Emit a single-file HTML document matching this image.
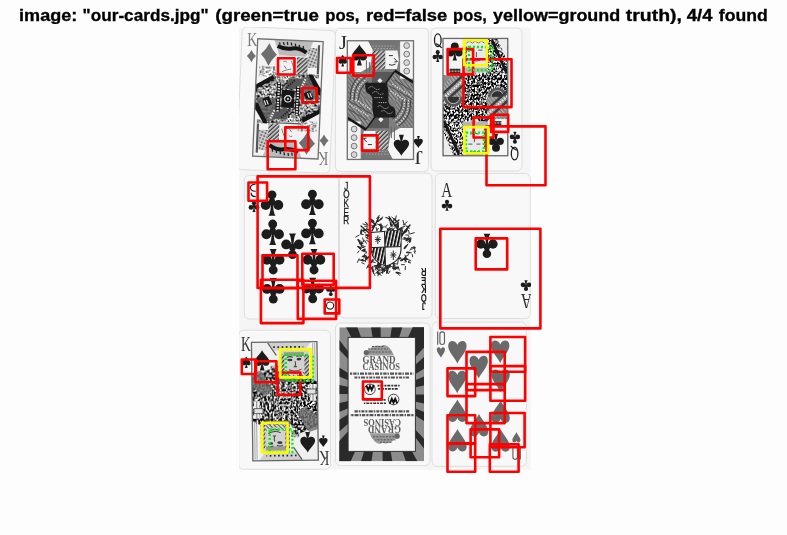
<!DOCTYPE html>
<html><head><meta charset="utf-8"><title>our-cards</title>
<style>
html,body{margin:0;padding:0;background:#fdfdfd;}
body{width:787px;height:535px;overflow:hidden;font-family:"Liberation Sans",sans-serif;}
svg{display:block;position:absolute;left:0;top:0;}
</style></head><body>
<svg width="787" height="535" viewBox="0 0 787 535">
<defs>
<pattern id="hatchD" width="3" height="3" patternUnits="userSpaceOnUse" patternTransform="rotate(45)"><rect width="3" height="3" fill="#d8d8d8"/><rect width="1.4" height="3" fill="#3a3a3a"/></pattern>
<pattern id="hatchJ" width="3" height="3" patternUnits="userSpaceOnUse" patternTransform="rotate(-38)"><rect width="3" height="3" fill="#bdbdbd"/><rect width="1.4" height="3" fill="#444"/></pattern>
<pattern id="hatchL" width="3" height="3" patternUnits="userSpaceOnUse" patternTransform="rotate(-45)"><rect width="3" height="3" fill="#e6e6e6"/><rect width="1.2" height="3" fill="#555"/></pattern>
<pattern id="dotsD" width="3" height="3" patternUnits="userSpaceOnUse"><rect width="3" height="3" fill="#2a2a2a"/><rect x="0.5" y="0.5" width="1.4" height="1.4" fill="#e8e8e8"/></pattern>
<pattern id="dotsM" width="3.2" height="3.2" patternUnits="userSpaceOnUse" patternTransform="rotate(20)"><rect width="3.2" height="3.2" fill="#cfcfcf"/><rect x="0.4" y="0.4" width="1.7" height="1.7" fill="#333"/></pattern>
<pattern id="vbar" width="3.3" height="4" patternUnits="userSpaceOnUse" patternTransform="skewX(-12)"><rect width="3.3" height="4" fill="#f4f4f4"/><rect width="2" height="4" fill="#141414"/></pattern>
<filter id="engD" x="0" y="0" width="100%" height="100%" color-interpolation-filters="sRGB"><feTurbulence type="fractalNoise" baseFrequency="0.55 0.42" numOctaves="2" seed="4" result="n"/><feColorMatrix in="n" type="matrix" values="4.2 0 0 0 -1.75  4.2 0 0 0 -1.75  4.2 0 0 0 -1.75  0 0 0 0 1" result="g"/><feComposite in="g" in2="SourceGraphic" operator="in"/></filter>
<filter id="engM" x="0" y="0" width="100%" height="100%" color-interpolation-filters="sRGB"><feTurbulence type="fractalNoise" baseFrequency="0.5 0.5" numOctaves="2" seed="9" result="n"/><feColorMatrix in="n" type="matrix" values="3.4 0 0 0 -1.15  3.4 0 0 0 -1.15  3.4 0 0 0 -1.15  0 0 0 0 1" result="g"/><feComposite in="g" in2="SourceGraphic" operator="in"/></filter>
<filter id="engL" x="0" y="0" width="100%" height="100%" color-interpolation-filters="sRGB"><feTurbulence type="fractalNoise" baseFrequency="0.45 0.45" numOctaves="2" seed="13" result="n"/><feColorMatrix in="n" type="matrix" values="2.6 0 0 0 -0.55  2.6 0 0 0 -0.55  2.6 0 0 0 -0.55  0 0 0 0 1" result="g"/><feComposite in="g" in2="SourceGraphic" operator="in"/></filter>
<filter id="gray" x="0" y="0" width="100%" height="100%" color-interpolation-filters="sRGB"><feColorMatrix type="saturate" values="0"/></filter>
<filter id="soft" x="-5%" y="-5%" width="110%" height="110%"><feGaussianBlur stdDeviation="0.45"/></filter>
<filter id="soft2" x="-5%" y="-5%" width="110%" height="110%"><feGaussianBlur stdDeviation="0.3"/></filter>
</defs>
<rect x="0" y="0" width="787" height="535" fill="#fdfdfd"/>
<g filter="url(#gray)">
<text x="19.10" y="20.6" font-family="Liberation Sans" font-weight="bold" font-size="15.9" fill="#000" stroke="#000" stroke-width="0.3" textLength="58.20" lengthAdjust="spacingAndGlyphs">image:</text>
<text x="82.60" y="20.6" font-family="Liberation Sans" font-weight="bold" font-size="15.9" fill="#000" stroke="#000" stroke-width="0.3" textLength="126.00" lengthAdjust="spacingAndGlyphs">&quot;our-cards.jpg&quot;</text>
<text x="215.20" y="20.6" font-family="Liberation Sans" font-weight="bold" font-size="15.9" fill="#000" stroke="#000" stroke-width="0.3" textLength="103.70" lengthAdjust="spacingAndGlyphs">(green=true</text>
<text x="325.20" y="20.6" font-family="Liberation Sans" font-weight="bold" font-size="15.9" fill="#000" stroke="#000" stroke-width="0.3" textLength="34.30" lengthAdjust="spacingAndGlyphs">pos,</text>
<text x="365.90" y="20.6" font-family="Liberation Sans" font-weight="bold" font-size="15.9" fill="#000" stroke="#000" stroke-width="0.3" textLength="81.40" lengthAdjust="spacingAndGlyphs">red=false</text>
<text x="453.10" y="20.6" font-family="Liberation Sans" font-weight="bold" font-size="15.9" fill="#000" stroke="#000" stroke-width="0.3" textLength="33.80" lengthAdjust="spacingAndGlyphs">pos,</text>
<text x="493.00" y="20.6" font-family="Liberation Sans" font-weight="bold" font-size="15.9" fill="#000" stroke="#000" stroke-width="0.3" textLength="127.30" lengthAdjust="spacingAndGlyphs">yellow=ground</text>
<text x="625.80" y="20.6" font-family="Liberation Sans" font-weight="bold" font-size="15.9" fill="#000" stroke="#000" stroke-width="0.3" textLength="56.20" lengthAdjust="spacingAndGlyphs">truth),</text>
<text x="686.80" y="20.6" font-family="Liberation Sans" font-weight="bold" font-size="15.9" fill="#000" stroke="#000" stroke-width="0.3" textLength="25.70" lengthAdjust="spacingAndGlyphs">4/4</text>
<text x="718.80" y="20.6" font-family="Liberation Sans" font-weight="bold" font-size="15.9" fill="#000" stroke="#000" stroke-width="0.3" textLength="48.90" lengthAdjust="spacingAndGlyphs">found</text>
</g>
<rect x="239.2" y="27.7" width="291.5" height="442.1" fill="#f5f5f5"/>
<clipPath id="imgclip"><rect x="239.2" y="27.7" width="291.5" height="442.1"/></clipPath>
<g clip-path="url(#imgclip)">
<g filter="url(#soft)">
<g transform="rotate(2.5 286 100)"><rect x="239.3" y="28.5" width="93.40" height="143.00" rx="5" fill="#f8f8f8" stroke="#dedede" stroke-width="1.0"/></g>
<rect x="335.4" y="28.3" width="93.20" height="143.30" rx="5" fill="#f8f8f8" stroke="#dedede" stroke-width="1.0"/>
<rect x="431" y="28" width="91.00" height="143.00" rx="5" fill="#f8f8f8" stroke="#dedede" stroke-width="1.0"/>
<rect x="244.3" y="175.5" width="94.20" height="143.50" rx="5" fill="#f8f8f8" stroke="#dedede" stroke-width="1.0"/>
<rect x="339.5" y="173.2" width="92.50" height="144.80" rx="5" fill="#f8f8f8" stroke="#dedede" stroke-width="1.0"/>
<rect x="435.3" y="173.5" width="95.00" height="145.00" rx="5" fill="#f8f8f8" stroke="#dedede" stroke-width="1.0"/>
<rect x="238.7" y="330.2" width="91.80" height="139.00" rx="5" fill="#f8f8f8" stroke="#dedede" stroke-width="1.0"/>
<rect x="335.5" y="323" width="94.50" height="142.60" rx="5" fill="#f8f8f8" stroke="#dedede" stroke-width="1.0"/>
<rect x="432" y="322.2" width="94.40" height="144.10" rx="5" fill="#f8f8f8" stroke="#dedede" stroke-width="1.0"/>
<clipPath id="clip1"><rect x="-32.75" y="-58.75" width="65.5" height="117.5"/></clipPath>
<g transform="translate(287.9 98.9) rotate(2.5)">
<rect x="-32.75" y="-58.75" width="65.5" height="117.5" fill="#f3f3f3"/>
<g clip-path="url(#clip1)">
<g id="half1"><path d="M-20.90 -54.90 Q-17.70 -48.12 -12.90 -43.60 Q-17.70 -39.08 -20.90 -32.30 Q-24.10 -39.08 -28.90 -43.60 Q-24.10 -48.12 -20.90 -54.90 Z" fill="#6e6e6e"/><polygon points="-16,-58.5 23,-58.5 16.4,-43 -10.4,-43" fill="#bcbcbc"/><path d="M-12.5 -52.5 Q-5 -49 2 -50.5 T16.5 -47" fill="none" stroke="#161616" stroke-width="3.9"/><path d="M-11 -56 l1 2 M-7 -56.5 l1 3 M-3 -57 l0.5 3 M1 -56.5 l0.5 3 M5 -55.5 l0.5 3 M9 -54.5 l0.5 3 M13 -53.5 l0.5 3" stroke="#222" stroke-width="1.3" fill="none"/><rect x="-10.4" y="-43" width="17.6" height="19" fill="#f1f1f1"/><path d="M-6 -37 q2 -1.5 3.5 0.5 M-5 -33 l2 3 M-7 -27 q4 -2 9 -3 M2 -38 l3 8" stroke="#777" stroke-width="0.9" fill="none"/><rect x="7.3" y="-42" width="11" height="16.5" fill="url(#hatchD)"/><rect x="18.3" y="-52" width="9" height="20" fill="url(#dotsM)" opacity="0.85"/><line x1="28.8" y1="-55" x2="28.8" y2="-22" stroke="#555" stroke-width="2.2"/><rect x="-30" y="-32" width="19" height="10.5" fill="#000" filter="url(#engL)" opacity="0.75"/><rect x="8" y="-26" width="22" height="4" fill="#000" filter="url(#engL)" opacity="0.7"/><path d="M-14 -24.3 H19" stroke="#555" stroke-width="1.2"/><polygon points="-33,0.2 -33,-11 -15.4,-21.7 18.7,-24.6 33,-11 33,0.2" fill="#000" filter="url(#engM)"/><polygon points="12,-22 20,-23.5 31,-10 31,0.2 12,0.2" fill="#5e5e5e" opacity="0.85"/><polygon points="-4,-10 1,-20.5 14,-20.5 12,-10" fill="#575757"/><path d="M-27 0 L-10 -15" stroke="#e8e8e8" stroke-width="2" stroke-dasharray="1.5 1.3"/><path d="M-13 -19.5 L2 -22" stroke="#f0f0f0" stroke-width="1.8" stroke-dasharray="1.3 1.2"/><path d="M-9.5 -16 V0.2 M9.8 -13 V0.2" stroke="#161616" stroke-width="4.2"/><path d="M-9.5 -16 V0.2 M9.8 -13 V0.2" stroke="#ececec" stroke-width="2.2" stroke-dasharray="1.5 1.2"/><path d="M13 -12 L17 -21" stroke="#ececec" stroke-width="2.2" stroke-dasharray="1.4 1.2"/><path d="M-2 -11 L6 -19" stroke="#222" stroke-width="1.8" stroke-dasharray="1.4 1.1"/><path d="M-33.5 -10.2 L-15 -21.3" stroke="#121212" stroke-width="4.2"/><polygon points="19,-25 23.5,-25.5 33,-10 33,-4 29.5,-6" fill="#141414"/><rect x="17" y="-8" width="7" height="9" fill="#151515" transform="rotate(-25 20.5 -3.5)"/><path d="M19.3 -6.5 l2 4.5 M21.6 -7.2 l2 4.5" stroke="#eee" stroke-width="1.1"/><rect x="-6.3" y="-8.8" width="12.6" height="9" fill="#141414"/><circle cx="0" cy="0" r="3.2" fill="#141414" stroke="#eee" stroke-width="1"/><circle cx="0" cy="0" r="1.1" fill="#ccc"/></g>
<use href="#half1" transform="rotate(180)"/>
</g>
<rect x="-32.75" y="-58.75" width="65.5" height="117.5" fill="none" stroke="#707070" stroke-width="1.3"/>
</g>
<text x="247.3" y="45.7" font-family="Liberation Serif" font-size="19.5" fill="#7c7c7c" textLength="10" lengthAdjust="spacingAndGlyphs">K</text>
<path d="M251.40 49.90 Q253.20 53.62 255.90 56.10 Q253.20 58.58 251.40 62.30 Q249.60 58.58 246.90 56.10 Q249.60 53.62 251.40 49.90 Z" fill="#707070"/>
<text x="328.2" y="151.5" font-family="Liberation Serif" font-size="19.5" fill="#7c7c7c" textLength="10" lengthAdjust="spacingAndGlyphs" transform="rotate(180 328.2 151.5)">K</text>
<path d="M324.00 134.40 Q325.80 138.12 328.50 140.60 Q325.80 143.08 324.00 146.80 Q322.20 143.08 319.50 140.60 Q322.20 138.12 324.00 134.40 Z" fill="#707070"/>
<clipPath id="clip2"><rect x="-33.1" y="-59.35" width="66.2" height="118.7"/></clipPath>
<g transform="translate(380.4 100.1) rotate(0)">
<rect x="-33.1" y="-59.35" width="66.2" height="118.7" fill="#7e7e7e"/>
<g clip-path="url(#clip2)">
<g id="half2"><rect x="-33.1" y="-59.35" width="66.2" height="59.550000000000004" fill="#7e7e7e"/><rect x="-33.4" y="-27" width="18" height="27.2" fill="url(#hatchJ)" opacity="0.4"/><path d="M-28 0 Q-29 -16 -17 -24.5 M-24 0 Q-24.5 -13.5 -13.5 -21" stroke="#e2e2e2" stroke-width="1.3" stroke-dasharray="1.2 1.5" fill="none"/><path d="M-30 0 Q-31 -18 -18 -26 M-26 0 Q-27 -15 -15 -23 M-22 0 Q-22 -12 -12 -19" stroke="#444" stroke-width="1.1" fill="none"/><polygon points="-33,-59.3 -11.9,-59.3 -7.4,-49.7 -10.4,-33.3 -19.4,-28 -33,-28" fill="#f6f6f6"/><path d="M-21.00 -55.70 C-18.69 -51.08 -13.30 -47.72 -13.30 -43.52 C-13.30 -38.90 -19.15 -38.48 -20.38 -41.42 L-18.54 -34.70 L-23.46 -34.70 L-21.62 -41.42 C-22.85 -38.48 -28.70 -38.90 -28.70 -43.52 C-28.70 -47.72 -23.31 -51.08 -21.00 -55.70 Z" fill="#1c1c1c"/><path d="M-14 -40 v13 M-11 -38 v11" stroke="#666" stroke-width="1" fill="none"/><polygon points="-12.5,-59.4 19.7,-59.4 16.5,-50.5 -7.5,-50.5" fill="#747474"/><path d="M-8 -54 h22 M-6 -51.5 h19" stroke="#bbb" stroke-width="0.8" stroke-dasharray="1.5 1.5"/><rect x="-7.9" y="-49.5" width="12.8" height="19" fill="url(#hatchD)"/><path d="M4.9 -49.5 H17 L18.4 -40 L16.5 -31 H4.9 Z" fill="#f4f4f4"/><path d="M8.5 -44.5 h4 M13.5 -42 l3.5 3.5 l-3 0.5 M8.5 -35.5 q3 1.5 6.5 -0.5" stroke="#333" stroke-width="1" fill="none"/><rect x="19.7" y="-59.3" width="13.4" height="38" fill="#f2f2f2"/><circle cx="26.3" cy="-54.5" r="2.9" fill="#d8d8d8" stroke="#777" stroke-width="1"/><circle cx="26.3" cy="-46" r="2.9" fill="#d8d8d8" stroke="#777" stroke-width="1"/><circle cx="26.3" cy="-37.5" r="2.9" fill="#d8d8d8" stroke="#777" stroke-width="1"/><circle cx="26.3" cy="-29" r="2.9" fill="#d8d8d8" stroke="#777" stroke-width="1"/><polygon points="-8.6,-28.2 14.3,-28.2 4.5,-14.5 -8.6,-14.5" fill="#585858"/><path d="M-0.5 -22.2 l2.6 2.8 l-2.6 2.8 l-2.6 -2.8 Z" fill="#eee"/><path d="M14.3 -29.5 L33.4 -17.4" stroke="#181818" stroke-width="2.6"/><path d="M14.3 -29 L2.5 -13" stroke="#181818" stroke-width="1.6"/><polygon points="14,-26 33.4,-14 33.4,0.2 4,0.2 4,-12" fill="url(#hatchJ)" opacity="0.55"/><path d="M12 -16 L31 -4 M10 -9 L26 1" stroke="#e4e4e4" stroke-width="1.4" stroke-dasharray="1.2 1.5" fill="none"/><path d="M9 -14 L33 0 M14 -20 L33.4 -8" stroke="#555" stroke-width="1.2"/><path d="M-15 -17.3 H6.5 L8 -9 L8 0.2 H-7.7 Q-8 -5 -13 -7 Q-15.6 -9 -15 -17.3 Z" fill="#1a1a1a"/><path d="M-12 -12 q3 -3 6 0 t6 0 M-8 -7 q3 -3 6 0 t5 0 M-6 -2.5 h9" stroke="#ddd" stroke-width="0.9" stroke-dasharray="1.1 1.1" fill="none"/></g>
<use href="#half2" transform="rotate(180)"/>
</g>
<rect x="-33.1" y="-59.35" width="66.2" height="118.7" fill="none" stroke="#707070" stroke-width="1.3"/>
</g>
<text x="339.1" y="48.9" font-family="Liberation Serif" font-size="19.5" fill="#2a2a2a" textLength="8" lengthAdjust="spacingAndGlyphs">J</text>
<path d="M342.70 54.80 C343.99 57.35 347.00 59.21 347.00 61.53 C347.00 64.08 343.73 64.31 343.04 62.69 L344.08 66.40 L341.32 66.40 L342.36 62.69 C341.67 64.31 338.40 64.08 338.40 61.53 C338.40 59.21 341.41 57.35 342.70 54.80 Z" fill="#1c1c1c"/>
<text x="422.7" y="151.3" font-family="Liberation Serif" font-size="19.5" fill="#2a2a2a" textLength="8" lengthAdjust="spacingAndGlyphs" transform="rotate(180 422.7 151.3)">J</text>
<path d="M418.40 148.00 C419.73 145.36 422.85 143.44 422.85 141.04 C422.85 138.40 419.47 138.16 418.76 139.84 L419.82 136.00 L416.98 136.00 L418.04 139.84 C417.33 138.16 413.95 138.40 413.95 141.04 C413.95 143.44 417.06 145.36 418.40 148.00 Z" fill="#1c1c1c"/>
<clipPath id="clip3"><rect x="-32.4" y="-58.65" width="64.8" height="117.3"/></clipPath>
<g transform="translate(475.4 97.1) rotate(0)">
<rect x="-32.4" y="-58.65" width="64.8" height="117.3" fill="#b5b5b5"/>
<g clip-path="url(#clip3)">
<g id="half3"><rect x="-32.4" y="-58.65" width="64.8" height="58.85" fill="#b5b5b5"/><rect x="-32.5" y="-59" width="20" height="37" fill="#f5f5f5"/><g fill="#1c1c1c"><circle cx="-20.60" cy="-50.56" r="3.99"/><circle cx="-24.78" cy="-44.26" r="3.68"/><circle cx="-16.42" cy="-44.26" r="3.68"/><ellipse cx="-20.60" cy="-46.49" rx="2.16" ry="2.68"/><path d="M-21.25 -45.60 L-19.95 -45.60 Q-19.88 -39.16 -18.30 -36.65 L-22.90 -36.65 Q-21.32 -39.16 -21.25 -45.60 Z"/></g><rect x="-26" y="-28.5" width="11" height="4.5" fill="url(#dotsD)"/><rect x="-12.5" y="-58.5" width="24.5" height="29" fill="#e9e9e9"/><path d="M-8 -57 h18 M-9 -54 l3 -2 l3 2 l3 -2 l3 2 l3 -2 l3 2" stroke="#777" stroke-width="1" fill="none"/><path d="M-5 -47 h4 M3 -47 h4 M1 -45 v5 M-3 -37 q4 2 8 0" stroke="#555" stroke-width="1" fill="none"/><rect x="-12.5" y="-51" width="4" height="21" fill="url(#hatchD)"/><rect x="12" y="-59" width="20.5" height="37" fill="#000" filter="url(#engM)"/><path d="M16.5 -57 L31.5 -23.5" stroke="#161616" stroke-width="2.8"/><polygon points="22,-58.5 32,-58.5 32,-35" fill="#ececec"/><rect x="-12" y="-24" width="44.5" height="24.2" fill="#000" filter="url(#engD)"/><path d="M12 0 A10 10 0 0 1 32 0" fill="#555" stroke="#eee" stroke-width="1.2" stroke-dasharray="1.2 1.2"/><path d="M15.5 0 A6.5 6.5 0 0 1 28.5 0" fill="#333" stroke="#bbb" stroke-width="1"/><path d="M-3 -23.5 h14" stroke="#f4f4f4" stroke-width="2.2" stroke-dasharray="2.2 1.6"/><polygon points="-32.5,-22 -12,-22 -12,0.2 -32.5,0.2" fill="#a4a4a4"/><polygon points="-32.5,-22 -12,-22 -12,0.2 -32.5,0.2" fill="url(#hatchJ)" opacity="0.5"/><path d="M-34 -2 L-10 -24 M-34 8 L-10 -14" stroke="#3a3a3a" stroke-width="2.4"/><path d="M-34 3 L-10 -19" stroke="#f2f2f2" stroke-width="2.2" stroke-dasharray="1.4 1.4"/><path d="M-32 -21 l8 0 l-8 9 Z" fill="#8a8a8a"/></g>
<use href="#half3" transform="rotate(180)"/>
</g>
<rect x="-32.4" y="-58.65" width="64.8" height="117.3" fill="none" stroke="#6a6a6a" stroke-width="1.3"/>
</g>
<ellipse cx="437.8" cy="40.2" rx="3.3" ry="6.3" fill="none" stroke="#1c1c1c" stroke-width="1.25"/><path d="M435.5 43.6 q3.5 0.8 6.2 4.3" stroke="#1c1c1c" stroke-width="1.2" fill="none"/>
<g fill="#1c1c1c"><circle cx="437.70" cy="52.15" r="2.05"/><circle cx="434.80" cy="57.00" r="2.28"/><circle cx="440.60" cy="57.00" r="2.28"/><ellipse cx="437.70" cy="55.50" rx="1.50" ry="1.80"/><path d="M437.25 56.10 L438.15 56.10 Q438.20 60.42 439.30 62.10 L436.10 62.10 Q437.20 60.42 437.25 56.10 Z"/></g>
<ellipse cx="514.6" cy="153.6" rx="3.3" ry="6.3" fill="none" stroke="#1c1c1c" stroke-width="1.25"/><path d="M516.9 150.2 q-3.5 -0.8 -6.2 -4.3" stroke="#1c1c1c" stroke-width="1.2" fill="none"/>
<g fill="#1c1c1c"><circle cx="514.90" cy="141.75" r="2.05"/><circle cx="512.00" cy="136.90" r="2.28"/><circle cx="517.80" cy="136.90" r="2.28"/><ellipse cx="514.90" cy="138.40" rx="1.50" ry="1.80"/><path d="M514.45 137.80 L515.35 137.80 Q515.40 133.48 516.50 131.80 L513.30 131.80 Q514.40 133.48 514.45 137.80 Z"/></g>
<clipPath id="clip7"><rect x="-32.75" y="-59.25" width="65.5" height="118.5"/></clipPath>
<g transform="translate(284.9 401.3) rotate(-0.7)">
<rect x="-32.75" y="-59.25" width="65.5" height="118.5" fill="#efefef"/>
<g clip-path="url(#clip7)">
<g id="half7"><rect x="-32.75" y="-59.25" width="65.5" height="59.45" fill="#efefef"/><path d="M-22.30 -51.40 C-20.08 -46.91 -14.90 -43.65 -14.90 -39.57 C-14.90 -35.08 -20.52 -34.67 -21.71 -37.53 L-19.93 -31.00 L-24.67 -31.00 L-22.89 -37.53 C-24.08 -34.67 -29.70 -35.08 -29.70 -39.57 C-29.70 -43.65 -24.52 -46.91 -22.30 -51.40 Z" fill="#1c1c1c"/><polygon points="-17,-59 26.3,-59 20.5,-51 -10,-51" fill="#cfcfcf"/><path d="M-11 -54.3 h30" stroke="#222" stroke-width="1.7" stroke-dasharray="1.6 2.6"/><path d="M-16.5 -58.5 L-8 -46" stroke="#555" stroke-width="1.2"/><rect x="-4.5" y="-51.4" width="29" height="28.5" fill="#d2d2d2"/><rect x="-0.5" y="-49" width="20" height="4" fill="#9a9a9a"/><ellipse cx="5.5" cy="-41.3" rx="2.6" ry="1.3" fill="#3a3a3a"/><ellipse cx="14.6" cy="-42" rx="2.4" ry="1.3" fill="#3a3a3a"/><path d="M2.5 -43.8 q3 -1.6 6 0 M12 -44.6 q2.6 -1.4 5.4 0 M10.5 -40 q1.5 3.5 -0.5 5.5 h2.5 M4.5 -31.5 q6 3 12.5 -0.5 M6 -29 q4.5 2 9 0" stroke="#444" stroke-width="1.05" fill="none"/><rect x="-4.5" y="-47" width="4.5" height="24" fill="url(#hatchD)"/><rect x="20" y="-47" width="4.5" height="24" fill="url(#hatchD)"/><path d="M0 -30 q10 8 20 0 v7 h-20 Z" fill="url(#hatchL)"/><rect x="26.3" y="-59" width="6.5" height="40" fill="#f5f5f5"/><path d="M28.5 -58 v38 M30.5 -58 v38" stroke="#888" stroke-width="0.7"/><rect x="-14" y="-36" width="8" height="6" fill="url(#dotsM)"/><polygon points="-32.8,-25 -10,-34 -6,-23 26,-23 32.8,-19 32.8,0.2 -32.8,0.2" fill="#000" filter="url(#engD)"/><path d="M-28 -22 L-12 -2 M-22 -26 L-6 -6" stroke="#e8e8e8" stroke-width="1.6" stroke-dasharray="1.6 1.6"/><path d="M-4 -20 v20 M2 -20 v20 M8 -20 v20" stroke="#eee" stroke-width="1.3" stroke-dasharray="2.4 1.4"/><rect x="-6" y="-22.5" width="19" height="3" fill="#666"/><polygon points="-32.8,-28 -24,-31 -12,-12 -20,-6 -32.8,-14" fill="#6e6e6e" opacity="0.8"/><rect x="25.5" y="-17" width="5.5" height="17.2" fill="#efefef"/><path d="M28.2 -17 V0.2" stroke="#777" stroke-width="0.9"/><rect x="22" y="-12" width="9" height="5" fill="#e2e2e2" stroke="#444" stroke-width="0.8"/></g>
<use href="#half7" transform="rotate(180)"/>
</g>
<rect x="-32.75" y="-59.25" width="65.5" height="118.5" fill="none" stroke="#666" stroke-width="1.3"/>
</g>
<text x="240.9" y="350.6" font-family="Liberation Serif" font-size="20" fill="#333" textLength="9.9" lengthAdjust="spacingAndGlyphs">K</text>
<path d="M246.30 356.40 C247.59 358.95 250.60 360.81 250.60 363.13 C250.60 365.68 247.33 365.91 246.64 364.29 L247.68 368.00 L244.92 368.00 L245.96 364.29 C245.27 365.91 242.00 365.68 242.00 363.13 C242.00 360.81 245.01 358.95 246.30 356.40 Z" fill="#1c1c1c"/>
<text x="329.3" y="451.2" font-family="Liberation Serif" font-size="20" fill="#333" textLength="9.9" lengthAdjust="spacingAndGlyphs" transform="rotate(180 329.3 451.2)">K</text>
<path d="M323.30 447.00 C324.59 444.45 327.60 442.59 327.60 440.27 C327.60 437.72 324.33 437.49 323.64 439.11 L324.68 435.40 L321.92 435.40 L322.96 439.11 C322.27 437.49 319.00 437.72 319.00 440.27 C319.00 442.59 322.01 444.45 323.30 447.00 Z" fill="#1c1c1c"/>
<clipPath id="clip8"><rect x="339.3" y="327.3" width="84.69999999999999" height="133.89999999999998"/></clipPath>
<g clip-path="url(#clip8)"><rect x="339.3" y="327.3" width="84.69999999999999" height="133.89999999999998" fill="#8c8c8c"/>
<polygon points="346.0,327.3 357.4,327.3 365.5,349.8 358.0,349.8" fill="#2a2a2a"/>
<polygon points="417.3,461.2 405.9,461.2 397.8,438.7 405.3,438.7" fill="#2a2a2a"/>
<polygon points="371.0,327.3 380.6,327.3 381.0,349.8 374.6,349.8" fill="#2a2a2a"/>
<polygon points="392.3,461.2 382.7,461.2 382.3,438.7 388.7,438.7" fill="#2a2a2a"/>
<polygon points="391.8,327.3 402.3,327.3 395.4,349.8 388.4,349.8" fill="#2a2a2a"/>
<polygon points="371.5,461.2 361.0,461.2 367.9,438.7 374.9,438.7" fill="#2a2a2a"/>
<polygon points="412.7,327.3 424.2,327.3 409.9,349.8 402.3,349.8" fill="#2a2a2a"/>
<polygon points="350.6,461.2 339.1,461.2 353.4,438.7 361.0,438.7" fill="#2a2a2a"/>
<polygon points="339.3,340.0 339.3,349.7 350.0,360.9 350.0,353.7" fill="#2a2a2a"/>
<polygon points="424.0,448.5 424.0,438.8 413.3,427.6 413.3,434.8" fill="#2a2a2a"/>
<polygon points="339.3,367.6 339.3,376.6 350.0,381.0 350.0,374.3" fill="#2a2a2a"/>
<polygon points="424.0,420.9 424.0,411.9 413.3,407.5 413.3,414.2" fill="#2a2a2a"/>
<polygon points="339.3,385.0 339.3,394.0 350.0,394.1 350.0,387.3" fill="#2a2a2a"/>
<polygon points="424.0,403.5 424.0,394.5 413.3,394.4 413.3,401.2" fill="#2a2a2a"/>
<polygon points="339.3,403.0 339.3,412.0 350.0,407.5 350.0,400.8" fill="#2a2a2a"/>
<polygon points="424.0,385.5 424.0,376.5 413.3,381.0 413.3,387.7" fill="#2a2a2a"/>
<polygon points="339.3,419.7 339.3,431.5 350.0,422.1 350.0,413.3" fill="#2a2a2a"/>
<polygon points="424.0,368.8 424.0,357.0 413.3,366.4 413.3,375.2" fill="#2a2a2a"/>
<polygon points="339.3,441.0 339.3,461.4 350.0,444.5 350.0,429.2" fill="#2a2a2a"/>
<polygon points="424.0,347.5 424.0,327.1 413.3,344.0 413.3,359.3" fill="#2a2a2a"/>
<polygon points="339.3,461.2 339.3,441 349.1,446 354.1,451.4 350.6,461.2" fill="#2a2a2a"/>
<polygon points="424,327.3 424,347.5 414.4,342.5 409.4,337.4 412.7,327.3" fill="#2a2a2a"/>
</g>
<rect x="348.1" y="337.4" width="67.29999999999995" height="114.0" fill="#f7f7f7" stroke="#333" stroke-width="1"/>
<g id="cas"><path d="M364 355.5 Q372 343 381 346 Q388 342 394 355.5 Z" fill="#9a9a9a"/><path d="M366 352 h26 M368 349 h20 M372 346.5 h12" stroke="#555" stroke-width="1" stroke-dasharray="2 1.2"/><circle cx="366.3" cy="352.6" r="2.6" fill="#666"/><text x="362.4" y="363.3" font-family="Liberation Serif" font-weight="bold" font-size="9.4" fill="#5c5c5c" textLength="33.2" lengthAdjust="spacingAndGlyphs">GRAND</text><text x="362.4" y="370.1" font-family="Liberation Serif" font-weight="bold" font-size="9.4" fill="#5c5c5c" textLength="37.5" lengthAdjust="spacingAndGlyphs">CASINOS</text><path d="M350 373.7 H413.5" stroke="#2a2a2a" stroke-opacity="0.8" stroke-width="2.2" stroke-dasharray="2.2 1 3.4 0.9 1.4 1.1 4 1"/><path d="M354.4 377.5 H409" stroke="#2a2a2a" stroke-opacity="0.8" stroke-width="2.2" stroke-dasharray="3 1 1.6 0.9 4.2 1.2 2 1"/><circle cx="369.9" cy="389.3" r="5.3" fill="#f4f4f4" stroke="#333" stroke-width="0.9"/><path d="M366.3 385.5 l2 4.4 l1.7 -3.8 l1.7 3.8 l2.2 -5" stroke="#111" stroke-width="1.9" fill="none"/><path d="M377.5 385.6 H399.6 M378 388.9 H398" stroke="#333" stroke-width="1.6" stroke-dasharray="2 0.9 3 1"/></g>
<use href="#cas" transform="rotate(180 381.75 394.40)"/>
<g fill="#1c1c1c"><circle cx="272.00" cy="194.85" r="4.45"/><circle cx="265.71" cy="205.00" r="4.95"/><circle cx="278.29" cy="205.00" r="4.95"/><ellipse cx="272.00" cy="201.83" rx="3.25" ry="3.81"/><path d="M271.02 203.10 L272.98 203.10 Q273.08 212.24 275.47 215.80 L268.53 215.80 Q270.92 212.24 271.02 203.10 Z"/></g>
<g fill="#1c1c1c"><circle cx="312.40" cy="194.15" r="4.45"/><circle cx="306.11" cy="204.31" r="4.95"/><circle cx="318.69" cy="204.31" r="4.95"/><ellipse cx="312.40" cy="201.13" rx="3.25" ry="3.81"/><path d="M311.42 202.40 L313.38 202.40 Q313.48 211.54 315.87 215.10 L308.93 215.10 Q311.31 211.54 311.42 202.40 Z"/></g>
<g fill="#1c1c1c"><circle cx="272.70" cy="224.05" r="4.45"/><circle cx="266.41" cy="234.21" r="4.95"/><circle cx="278.99" cy="234.21" r="4.95"/><ellipse cx="272.70" cy="231.03" rx="3.25" ry="3.81"/><path d="M271.72 232.30 L273.68 232.30 Q273.78 241.44 276.17 245.00 L269.23 245.00 Q271.62 241.44 271.72 232.30 Z"/></g>
<g fill="#1c1c1c"><circle cx="312.40" cy="223.25" r="4.45"/><circle cx="306.11" cy="233.41" r="4.95"/><circle cx="318.69" cy="233.41" r="4.95"/><ellipse cx="312.40" cy="230.23" rx="3.25" ry="3.81"/><path d="M311.42 231.50 L313.38 231.50 Q313.48 240.64 315.87 244.20 L308.93 244.20 Q311.31 240.64 311.42 231.50 Z"/></g>
<g fill="#1c1c1c"><circle cx="292.50" cy="254.55" r="4.45"/><circle cx="286.21" cy="244.40" r="4.95"/><circle cx="298.79" cy="244.40" r="4.95"/><ellipse cx="292.50" cy="247.57" rx="3.25" ry="3.81"/><path d="M291.52 246.30 L293.48 246.30 Q293.58 237.16 295.97 233.60 L289.03 233.60 Q291.42 237.16 291.52 246.30 Z"/></g>
<g fill="#1c1c1c"><circle cx="273.20" cy="269.95" r="4.45"/><circle cx="266.91" cy="259.79" r="4.95"/><circle cx="279.49" cy="259.79" r="4.95"/><ellipse cx="273.20" cy="262.97" rx="3.25" ry="3.81"/><path d="M272.22 261.70 L274.18 261.70 Q274.28 252.56 276.67 249.00 L269.73 249.00 Q272.12 252.56 272.22 261.70 Z"/></g>
<g fill="#1c1c1c"><circle cx="314.00" cy="269.95" r="4.45"/><circle cx="307.71" cy="259.79" r="4.95"/><circle cx="320.29" cy="259.79" r="4.95"/><ellipse cx="314.00" cy="262.97" rx="3.25" ry="3.81"/><path d="M313.02 261.70 L314.98 261.70 Q315.08 252.56 317.47 249.00 L310.53 249.00 Q312.92 252.56 313.02 261.70 Z"/></g>
<g fill="#1c1c1c"><circle cx="273.30" cy="299.05" r="4.45"/><circle cx="267.01" cy="288.89" r="4.95"/><circle cx="279.59" cy="288.89" r="4.95"/><ellipse cx="273.30" cy="292.07" rx="3.25" ry="3.81"/><path d="M272.32 290.80 L274.28 290.80 Q274.38 281.66 276.77 278.10 L269.83 278.10 Q272.22 281.66 272.32 290.80 Z"/></g>
<g fill="#1c1c1c"><circle cx="312.70" cy="298.75" r="4.45"/><circle cx="306.41" cy="288.59" r="4.95"/><circle cx="318.99" cy="288.59" r="4.95"/><ellipse cx="312.70" cy="291.77" rx="3.25" ry="3.81"/><path d="M311.72 290.50 L313.68 290.50 Q313.78 281.36 316.17 277.80 L309.23 277.80 Q311.62 281.36 311.72 290.50 Z"/></g>
<path d="M255.5 184.2 Q250.2 184.4 250.4 188 Q251 191.5 255.8 191.2 M251 192.6 Q251.2 196.8 255.8 196.6" fill="none" stroke="#1a1a1a" stroke-width="1.15"/>
<g fill="#1c1c1c"><circle cx="254.00" cy="203.33" r="2.13"/><circle cx="250.98" cy="207.41" r="2.37"/><circle cx="257.02" cy="207.41" r="2.37"/><ellipse cx="254.00" cy="206.06" rx="1.56" ry="1.62"/><path d="M253.53 206.60 L254.47 206.60 Q254.52 210.49 255.66 212.00 L252.34 212.00 Q253.48 210.49 253.53 206.60 Z"/></g>
<g fill="#1c1c1c"><circle cx="330.80" cy="294.15" r="1.84"/><circle cx="328.19" cy="289.68" r="2.05"/><circle cx="333.41" cy="289.68" r="2.05"/><ellipse cx="330.80" cy="291.05" rx="1.35" ry="1.65"/><path d="M330.40 290.50 L331.20 290.50 Q331.25 286.54 332.24 285.00 L329.36 285.00 Q330.35 286.54 330.40 290.50 Z"/></g>
<circle cx="330.1" cy="305.6" r="3.6" fill="none" stroke="#222" stroke-width="1.1"/>
<path d="M328 300.5 q3 -2.5 5.5 0" fill="none" stroke="#444" stroke-width="0.9"/>
<text transform="translate(346.3 189.80) scale(0.76 1)" x="0" y="0" font-family="Liberation Sans" font-size="10.7" fill="#1c1c1c" stroke="#1c1c1c" stroke-width="0.3" text-anchor="middle">J</text>
<text transform="translate(346.3 198.46) scale(0.76 1)" x="0" y="0" font-family="Liberation Sans" font-size="10.7" fill="#1c1c1c" stroke="#1c1c1c" stroke-width="0.3" text-anchor="middle">O</text>
<text transform="translate(346.3 207.12) scale(0.76 1)" x="0" y="0" font-family="Liberation Sans" font-size="10.7" fill="#1c1c1c" stroke="#1c1c1c" stroke-width="0.3" text-anchor="middle">K</text>
<text transform="translate(346.3 215.78) scale(0.76 1)" x="0" y="0" font-family="Liberation Sans" font-size="10.7" fill="#1c1c1c" stroke="#1c1c1c" stroke-width="0.3" text-anchor="middle">E</text>
<text transform="translate(346.3 224.44) scale(0.76 1)" x="0" y="0" font-family="Liberation Sans" font-size="10.7" fill="#1c1c1c" stroke="#1c1c1c" stroke-width="0.3" text-anchor="middle">R</text>
<text transform="translate(423.8 302.40) rotate(180) scale(0.74 1)" x="0" y="0" font-family="Liberation Sans" font-weight="bold" font-size="10.4" fill="#161616" text-anchor="middle">J</text>
<text transform="translate(423.8 293.90) rotate(180) scale(0.74 1)" x="0" y="0" font-family="Liberation Sans" font-weight="bold" font-size="10.4" fill="#161616" text-anchor="middle">O</text>
<text transform="translate(423.8 285.40) rotate(180) scale(0.74 1)" x="0" y="0" font-family="Liberation Sans" font-weight="bold" font-size="10.4" fill="#161616" text-anchor="middle">K</text>
<text transform="translate(423.8 276.90) rotate(180) scale(0.74 1)" x="0" y="0" font-family="Liberation Sans" font-weight="bold" font-size="10.4" fill="#161616" text-anchor="middle">E</text>
<text transform="translate(423.8 268.40) rotate(180) scale(0.74 1)" x="0" y="0" font-family="Liberation Sans" font-weight="bold" font-size="10.4" fill="#161616" text-anchor="middle">R</text>
<g>
<path d="M387.3 271.2 l-0.5 2.5 M372.9 234.0 l0.1 -1.5 M384.3 267.4 l0.1 4.2 M397.4 226.9 l-1.2 -3.0 M367.1 225.8 l-0.3 -2.9 M377.0 230.9 l-0.9 -3.4 M380.0 264.0 l-1.0 3.7 M380.1 219.1 l2.7 -2.1 M364.2 263.9 l-2.4 -1.2 M398.8 234.1 l0.1 -1.9 M407.5 242.1 l2.4 -2.1 M363.6 246.0 l-2.4 -0.6 M361.1 232.5 l0.2 -3.3 M403.7 223.5 l-0.7 -3.2 M404.1 224.3 l3.0 -2.5 M381.1 227.4 l-0.1 -3.7 M381.6 264.9 l-3.8 0.3 M408.4 261.5 l2.4 -0.9 M378.3 273.1 l3.0 2.4 M372.2 235.1 l-3.3 -1.0 M406.9 226.8 l2.4 1.5 M378.9 264.2 l2.3 2.1 M392.7 268.4 l3.0 1.1 M412.3 254.5 l0.3 2.3 M402.8 233.6 l2.3 -1.5 M370.4 227.4 l-1.0 -2.8 M407.3 238.3 l2.6 0.5 M387.1 268.2 l0.1 4.1 M369.0 241.7 l-2.3 -1.3 M410.0 250.2 l1.7 -2.7 M369.6 230.3 l-3.0 -1.3 M378.5 221.2 l-1.5 -0.2 M372.5 220.6 l-1.2 -1.8 M367.9 235.2 l-2.5 -0.2 M368.9 265.3 l-1.0 2.1 M387.9 229.3 l2.1 -2.2 M378.2 265.9 l1.1 3.5 M394.1 268.2 l3.4 0.5 M376.2 266.5 l-1.1 3.6 M397.3 231.5 l2.1 -1.2 M402.5 231.7 l-0.3 -2.1 M366.3 243.3 l-1.8 -3.2 M393.8 266.2 l0.2 3.7 M392.9 226.5 l-0.3 -1.8 M391.1 226.9 l0.1 -2.4 M366.1 257.9 l-0.7 3.9 M414.2 247.9 l1.1 3.7 M359.1 258.8 l-1.7 3.6 M373.3 226.5 l-1.9 -1.3 M388.0 265.2 l2.0 2.4 M392.0 230.2 l3.0 -2.5 M410.5 233.8 l3.8 -1.1 M411.7 249.2 l1.8 -0.8 M373.2 226.5 l1.5 -2.2 M369.3 232.9 l0.2 -2.2 M359.0 250.9 l-1.5 2.0 M359.0 241.0 l-1.1 -1.6 M409.3 234.0 l-0.7 -3.6 M366.4 226.6 l-1.6 -0.3 M382.7 270.9 l-0.1 2.6 M388.3 229.7 l-1.2 -1.1 M398.2 259.9 l-0.6 4.1 M405.5 259.2 l2.3 0.1 M370.6 267.6 l-0.8 3.0 M393.2 267.1 l0.4 1.8 M380.9 225.3 l-1.5 -0.9 M368.3 264.9 l-1.6 3.2 M393.3 223.0 l-0.0 -2.7 M359.7 247.6 l-2.3 -1.2 M366.0 252.0 l-2.8 -0.8 M405.6 256.9 l0.4 2.6 M405.5 238.4 l3.7 1.4 M383.8 270.2 l-1.4 1.2 M370.8 222.6 l-0.4 -3.6 M404.9 262.0 l1.5 -0.4 M388.2 229.2 l-1.4 -1.1 M399.6 233.5 l1.5 0.2 M405.4 266.4 l-0.2 3.3 M408.7 239.7 l0.2 -3.6 M381.5 228.6 l2.8 -2.2 M405.1 255.1 l1.0 2.9 M386.5 266.7 l-0.5 2.1 M370.7 263.6 l-1.2 2.1 M405.7 258.9 l3.9 1.2 M385.2 227.5 l2.0 -2.7 M374.7 225.7 l-0.3 -2.8 M400.7 235.4 l1.8 0.0 M405.8 235.0 l2.7 0.1 M393.5 266.2 l0.4 2.0 M377.6 265.7 l-3.4 -0.1 M378.2 272.2 l-2.4 0.9 M367.9 236.4 l-1.6 1.4 M363.8 249.9 l-1.7 0.9 M373.9 271.4 l-1.9 -0.3 M361.2 250.2 l-2.0 -1.9 M395.9 225.0 l2.4 -1.5 M399.2 229.4 l3.3 1.0 M366.0 251.1 l-2.0 -0.8 M372.4 220.7 l-3.5 -1.6 M393.0 266.3 l-0.3 2.0 M403.3 224.7 l2.2 0.1 M376.8 268.0 l2.2 2.7 M408.4 262.4 l2.2 0.5 M363.2 234.5 l-1.5 -0.1 M364.2 256.2 l-2.0 0.4 M406.6 240.8 l0.9 -2.8 M381.6 272.5 l-1.7 0.7 M400.9 236.9 l2.5 -3.2 M389.2 220.3 l1.3 -1.9 M370.2 224.3 l0.1 -2.2 M410.1 240.8 l0.9 -2.8 M364.1 247.8 l-3.1 -1.4 M367.8 239.0 l-2.4 -2.2 M397.6 272.8 l3.2 0.5 M402.7 239.0 l2.4 0.3 M365.9 233.0 l-2.8 -1.6 M378.1 265.2 l-1.4 1.0 M383.3 269.2 l3.4 1.8 M365.3 246.4 l-3.4 1.2 M374.5 266.6 l-2.8 1.0 M401.1 260.5 l1.7 -0.5 M390.2 220.8 l-1.2 -1.6 M362.8 260.4 l-3.7 -0.5 M369.6 236.4 l-2.5 0.6 M361.7 242.8 l-1.8 0.9 M389.0 229.5 l3.4 -1.3 M406.2 240.0 l3.0 -0.3 M366.1 224.9 l-3.2 -1.0 M400.2 228.9 l3.0 -0.9 M412.1 247.4 l3.3 -0.0 M363.0 243.6 l-2.0 -0.5 M408.2 252.5 l3.2 0.3 M359.1 235.1 l-3.4 2.0 M392.0 222.6 l-0.2 -1.6 M387.4 265.4 l-2.5 1.6 M373.2 272.4 l1.6 3.0 M400.9 227.6 l3.8 -1.3 M395.5 219.7 l0.7 -3.8 M399.2 258.4 l1.7 -0.2 M397.9 267.1 l1.5 3.0 M363.3 259.0 l-1.9 1.3 M397.4 273.1 l2.4 2.4 M369.2 264.5 l-0.1 3.1 M405.2 247.3 l2.2 -2.9 M366.6 252.0 l-0.9 1.8 M369.7 258.1 l0.1 1.6 M396.9 267.6 l1.6 -0.3 M364.5 254.2 l-0.3 3.4 M367.4 259.8 l-1.3 -0.9 M389.1 265.3 l2.4 1.3 M370.1 231.8 l-1.7 0.7 M390.9 224.3 l-1.1 -3.9 M385.5 267.8 l-1.2 3.5 M375.2 262.5 l-3.2 -0.8 M371.1 237.4 l-1.4 0.7 M393.9 262.8 l0.2 1.6 M401.4 235.3 l3.2 -2.6 M394.9 219.7 l-3.1 -2.6 M377.2 270.6 l2.7 3.0 M378.1 274.1 l0.0 1.8 M372.6 269.4 l1.2 3.8 M397.8 226.0 l0.7 -3.9 M368.3 257.4 l-3.0 2.0 M383.2 266.5 l-1.3 3.2 M380.1 225.3 l-2.6 -1.2 M381.2 229.8 l1.1 -2.5 M377.4 230.2 l0.9 -1.9 M368.0 224.8 l-2.8 -2.7 M406.3 230.9 l1.3 -2.0 M405.3 256.8 l3.4 -2.2 M368.7 239.1 l-1.2 -1.3 M386.5 265.1 l-0.6 1.8 M370.6 238.0 l0.4 -2.1 M390.0 271.1 l-1.4 2.3 M364.2 230.3 l-2.9 0.5 M393.5 263.6 l3.7 0.4 M414.2 251.4 l0.8 1.9 M405.1 259.0 l0.4 2.1 M366.8 230.1 l0.4 -3.5 M371.6 267.6 l1.1 2.5 M398.0 225.6 l-0.8 -3.6 M363.4 241.3 l-2.3 2.6 M372.4 266.4 l-1.1 1.2 M370.9 226.9 l-1.8 -1.1 M406.7 246.4 l1.2 -2.4 M389.3 266.2 l-1.5 3.7 M406.1 225.9 l3.0 1.0 M363.8 241.9 l-1.2 -3.9 M407.4 239.7 l3.0 -1.9 M413.9 246.5 l1.0 2.1 M392.8 264.1 l2.8 2.0 M360.7 243.9 l-1.2 -1.1 M381.9 269.6 l-1.7 1.7 M402.1 259.8 l2.4 -1.1 M376.6 218.7 l2.6 -3.3 M372.2 261.0 l-1.5 1.8 M362.0 243.1 l-1.2 -2.2 M380.5 269.7 l-3.3 2.0 M379.6 266.6 l3.0 2.1 M401.5 264.7 l2.9 -0.1" stroke="#262626" stroke-width="0.95" fill="none" stroke-linecap="round"/>
<g fill="#2a2a2a"><ellipse cx="387.3" cy="271.2" rx="2.3" ry="1.0" transform="rotate(101 387.3 271.2)"/><ellipse cx="397.4" cy="226.9" rx="2.3" ry="1.0" transform="rotate(249 397.4 226.9)"/><ellipse cx="380.0" cy="264.0" rx="2.3" ry="1.0" transform="rotate(104 380.0 264.0)"/><ellipse cx="398.8" cy="234.1" rx="2.3" ry="1.0" transform="rotate(274 398.8 234.1)"/><ellipse cx="361.1" cy="232.5" rx="2.3" ry="1.0" transform="rotate(274 361.1 232.5)"/><ellipse cx="381.1" cy="227.4" rx="2.3" ry="1.0" transform="rotate(268 381.1 227.4)"/><ellipse cx="378.3" cy="273.1" rx="2.3" ry="1.0" transform="rotate(38 378.3 273.1)"/><ellipse cx="378.9" cy="264.2" rx="2.3" ry="1.0" transform="rotate(42 378.9 264.2)"/><ellipse cx="402.8" cy="233.6" rx="2.3" ry="1.0" transform="rotate(326 402.8 233.6)"/><ellipse cx="387.1" cy="268.2" rx="2.3" ry="1.0" transform="rotate(89 387.1 268.2)"/><ellipse cx="369.6" cy="230.3" rx="2.3" ry="1.0" transform="rotate(204 369.6 230.3)"/><ellipse cx="367.9" cy="235.2" rx="2.3" ry="1.0" transform="rotate(185 367.9 235.2)"/><ellipse cx="378.2" cy="265.9" rx="2.3" ry="1.0" transform="rotate(73 378.2 265.9)"/><ellipse cx="397.3" cy="231.5" rx="2.3" ry="1.0" transform="rotate(330 397.3 231.5)"/><ellipse cx="393.8" cy="266.2" rx="2.3" ry="1.0" transform="rotate(87 393.8 266.2)"/><ellipse cx="366.1" cy="257.9" rx="2.3" ry="1.0" transform="rotate(100 366.1 257.9)"/><ellipse cx="392.0" cy="230.2" rx="2.3" ry="1.0" transform="rotate(321 392.0 230.2)"/><ellipse cx="373.2" cy="226.5" rx="2.3" ry="1.0" transform="rotate(304 373.2 226.5)"/><ellipse cx="359.0" cy="241.0" rx="2.3" ry="1.0" transform="rotate(236 359.0 241.0)"/><ellipse cx="382.7" cy="270.9" rx="2.3" ry="1.0" transform="rotate(93 382.7 270.9)"/><ellipse cx="405.5" cy="259.2" rx="2.3" ry="1.0" transform="rotate(3 405.5 259.2)"/><ellipse cx="380.9" cy="225.3" rx="2.3" ry="1.0" transform="rotate(210 380.9 225.3)"/><ellipse cx="359.7" cy="247.6" rx="2.3" ry="1.0" transform="rotate(208 359.7 247.6)"/><ellipse cx="405.5" cy="238.4" rx="2.3" ry="1.0" transform="rotate(380 405.5 238.4)"/><ellipse cx="399.6" cy="233.5" rx="2.3" ry="1.0" transform="rotate(368 399.6 233.5)"/><ellipse cx="386.5" cy="266.7" rx="2.3" ry="1.0" transform="rotate(104 386.5 266.7)"/><ellipse cx="405.7" cy="258.9" rx="2.3" ry="1.0" transform="rotate(17 405.7 258.9)"/><ellipse cx="400.7" cy="235.4" rx="2.3" ry="1.0" transform="rotate(360 400.7 235.4)"/><ellipse cx="377.6" cy="265.7" rx="2.3" ry="1.0" transform="rotate(181 377.6 265.7)"/><ellipse cx="363.8" cy="249.9" rx="2.3" ry="1.0" transform="rotate(152 363.8 249.9)"/><ellipse cx="395.9" cy="225.0" rx="2.3" ry="1.0" transform="rotate(329 395.9 225.0)"/><ellipse cx="372.4" cy="220.7" rx="2.3" ry="1.0" transform="rotate(205 372.4 220.7)"/><ellipse cx="376.8" cy="268.0" rx="2.3" ry="1.0" transform="rotate(51 376.8 268.0)"/><ellipse cx="364.2" cy="256.2" rx="2.3" ry="1.0" transform="rotate(170 364.2 256.2)"/><ellipse cx="400.9" cy="236.9" rx="2.3" ry="1.0" transform="rotate(308 400.9 236.9)"/><ellipse cx="410.1" cy="240.8" rx="2.3" ry="1.0" transform="rotate(288 410.1 240.8)"/><ellipse cx="397.6" cy="272.8" rx="2.3" ry="1.0" transform="rotate(8 397.6 272.8)"/><ellipse cx="378.1" cy="265.2" rx="2.3" ry="1.0" transform="rotate(145 378.1 265.2)"/><ellipse cx="383.3" cy="269.2" rx="2.3" ry="1.0" transform="rotate(27 383.3 269.2)"/><ellipse cx="362.8" cy="260.4" rx="2.3" ry="1.0" transform="rotate(187 362.8 260.4)"/><ellipse cx="389.0" cy="229.5" rx="2.3" ry="1.0" transform="rotate(340 389.0 229.5)"/><ellipse cx="400.2" cy="228.9" rx="2.3" ry="1.0" transform="rotate(343 400.2 228.9)"/><ellipse cx="408.2" cy="252.5" rx="2.3" ry="1.0" transform="rotate(5 408.2 252.5)"/><ellipse cx="387.4" cy="265.4" rx="2.3" ry="1.0" transform="rotate(148 387.4 265.4)"/><ellipse cx="399.2" cy="258.4" rx="2.3" ry="1.0" transform="rotate(-5 399.2 258.4)"/><ellipse cx="405.2" cy="247.3" rx="2.3" ry="1.0" transform="rotate(-52 405.2 247.3)"/><ellipse cx="396.9" cy="267.6" rx="2.3" ry="1.0" transform="rotate(-11 396.9 267.6)"/><ellipse cx="389.1" cy="265.3" rx="2.3" ry="1.0" transform="rotate(29 389.1 265.3)"/><ellipse cx="390.9" cy="224.3" rx="2.3" ry="1.0" transform="rotate(254 390.9 224.3)"/><ellipse cx="371.1" cy="237.4" rx="2.3" ry="1.0" transform="rotate(152 371.1 237.4)"/><ellipse cx="394.9" cy="219.7" rx="2.3" ry="1.0" transform="rotate(220 394.9 219.7)"/><ellipse cx="372.6" cy="269.4" rx="2.3" ry="1.0" transform="rotate(72 372.6 269.4)"/><ellipse cx="368.3" cy="257.4" rx="2.3" ry="1.0" transform="rotate(146 368.3 257.4)"/><ellipse cx="381.2" cy="229.8" rx="2.3" ry="1.0" transform="rotate(294 381.2 229.8)"/><ellipse cx="406.3" cy="230.9" rx="2.3" ry="1.0" transform="rotate(304 406.3 230.9)"/><ellipse cx="386.5" cy="265.1" rx="2.3" ry="1.0" transform="rotate(108 386.5 265.1)"/><ellipse cx="364.2" cy="230.3" rx="2.3" ry="1.0" transform="rotate(171 364.2 230.3)"/><ellipse cx="405.1" cy="259.0" rx="2.3" ry="1.0" transform="rotate(80 405.1 259.0)"/><ellipse cx="398.0" cy="225.6" rx="2.3" ry="1.0" transform="rotate(257 398.0 225.6)"/><ellipse cx="389.3" cy="266.2" rx="2.3" ry="1.0" transform="rotate(112 389.3 266.2)"/><ellipse cx="407.4" cy="239.7" rx="2.3" ry="1.0" transform="rotate(328 407.4 239.7)"/><ellipse cx="360.7" cy="243.9" rx="2.3" ry="1.0" transform="rotate(224 360.7 243.9)"/><ellipse cx="402.1" cy="259.8" rx="2.3" ry="1.0" transform="rotate(-26 402.1 259.8)"/><ellipse cx="372.2" cy="261.0" rx="2.3" ry="1.0" transform="rotate(129 372.2 261.0)"/><ellipse cx="379.6" cy="266.6" rx="2.3" ry="1.0" transform="rotate(34 379.6 266.6)"/></g>
<path d="M372 231 L379 217 M376 225 l-5 -4 M377.5 221.5 l4.5 -3 M398 230 L389 216.5 M393 224 l6 -4 M391 219.5 l-5 -2 M403 233 l7 -8 M369 233 l-8 -7" stroke="#1e1e1e" stroke-width="1.3" fill="none" stroke-linecap="round"/>
<path d="M371 232.5 L401.2 230 L401 250 Q400 262 386 266 Q372.3 262 371.3 250 Z" fill="#f6f6f6" stroke="#1e1e1e" stroke-width="1.1"/>
<path d="M384.5 231.5 L400.7 230.2 L400.6 246.5 L384.8 247 Z" fill="url(#vbar)"/>
<path d="M371.6 247.7 L384.8 247.3 L385.2 265.2 Q373 261 371.6 250 Z" fill="url(#vbar)"/>
<path d="M371.3 247.6 L401 246.6 M384.5 231.5 L385.5 266" stroke="#1e1e1e" stroke-width="1" fill="none"/>
<path d="M377.8 235.5 v8.5 M374.8 239.5 h6 M375.5 237 l4.6 5 M380.3 237 l-4.8 5" stroke="#1e1e1e" stroke-width="0.95"/>
<path d="M393.3 250.5 v9.5 M390.3 255 h6 M391 252.4 l4.6 5.2 M395.8 252.4 l-4.8 5.2" stroke="#1e1e1e" stroke-width="0.95"/>
</g>
<text x="441.3" y="196.7" font-family="Liberation Serif" font-size="20.5" fill="#2a2a2a" textLength="11" lengthAdjust="spacingAndGlyphs">A</text>
<g fill="#1c1c1c"><circle cx="447.00" cy="201.96" r="2.11"/><circle cx="444.01" cy="206.12" r="2.35"/><circle cx="449.99" cy="206.12" r="2.35"/><ellipse cx="447.00" cy="204.76" rx="1.55" ry="1.64"/><path d="M446.54 205.30 L447.46 205.30 Q447.51 209.22 448.65 210.75 L445.35 210.75 Q446.49 209.22 446.54 205.30 Z"/></g>
<g fill="#1c1c1c"><circle cx="486.90" cy="253.64" r="4.26"/><circle cx="480.87" cy="243.99" r="4.74"/><circle cx="492.93" cy="243.99" r="4.74"/><ellipse cx="486.90" cy="247.01" rx="3.12" ry="3.63"/><path d="M485.96 245.80 L487.84 245.80 Q487.94 237.09 490.23 233.70 L483.57 233.70 Q485.86 237.09 485.96 245.80 Z"/></g>
<g fill="#1c1c1c"><circle cx="526.00" cy="288.94" r="2.11"/><circle cx="523.01" cy="284.78" r="2.35"/><circle cx="528.99" cy="284.78" r="2.35"/><ellipse cx="526.00" cy="286.15" rx="1.55" ry="1.64"/><path d="M525.54 285.60 L526.46 285.60 Q526.51 281.68 527.65 280.15 L524.35 280.15 Q525.49 281.68 525.54 285.60 Z"/></g>
<text x="531.8" y="294.3" font-family="Liberation Serif" font-size="20.5" fill="#2a2a2a" textLength="11" lengthAdjust="spacingAndGlyphs" transform="rotate(180 531.8 294.3)">A</text>
<path d="M457.40 344.84 C459.24 339.74 466.60 339.04 466.60 346.00 C466.60 351.80 460.16 357.60 457.40 363.40 C454.64 357.60 448.20 351.80 448.20 346.00 C448.20 339.04 455.56 339.74 457.40 344.84 Z" fill="#6b6b6b"/>
<path d="M500.20 344.44 C502.04 339.34 509.40 338.64 509.40 345.60 C509.40 351.40 502.96 357.20 500.20 363.00 C497.44 357.20 491.00 351.40 491.00 345.60 C491.00 338.64 498.36 339.34 500.20 344.44 Z" fill="#6b6b6b"/>
<path d="M478.70 359.74 C480.54 354.64 487.90 353.94 487.90 360.90 C487.90 366.70 481.46 372.50 478.70 378.30 C475.94 372.50 469.50 366.70 469.50 360.90 C469.50 353.94 476.86 354.64 478.70 359.74 Z" fill="#6b6b6b"/>
<path d="M457.20 374.64 C459.04 369.54 466.40 368.84 466.40 375.80 C466.40 381.60 459.96 387.40 457.20 393.20 C454.44 387.40 448.00 381.60 448.00 375.80 C448.00 368.84 455.36 369.54 457.20 374.64 Z" fill="#6b6b6b"/>
<path d="M500.60 373.54 C502.44 368.44 509.80 367.74 509.80 374.70 C509.80 380.50 503.36 386.30 500.60 392.10 C497.84 386.30 491.40 380.50 491.40 374.70 C491.40 367.74 498.76 368.44 500.60 373.54 Z" fill="#6b6b6b"/>
<path d="M457.40 417.96 C459.24 423.06 466.60 423.76 466.60 416.80 C466.60 411.00 460.16 405.20 457.40 399.40 C454.64 405.20 448.20 411.00 448.20 416.80 C448.20 423.76 455.56 423.06 457.40 417.96 Z" fill="#6b6b6b"/>
<path d="M500.60 418.96 C502.44 424.06 509.80 424.76 509.80 417.80 C509.80 412.00 503.36 406.20 500.60 400.40 C497.84 406.20 491.40 412.00 491.40 417.80 C491.40 424.76 498.76 424.06 500.60 418.96 Z" fill="#6b6b6b"/>
<path d="M479.00 432.46 C480.84 437.56 488.20 438.26 488.20 431.30 C488.20 425.50 481.76 419.70 479.00 413.90 C476.24 419.70 469.80 425.50 469.80 431.30 C469.80 438.26 477.16 437.56 479.00 432.46 Z" fill="#6b6b6b"/>
<path d="M457.50 447.46 C459.34 452.56 466.70 453.26 466.70 446.30 C466.70 440.50 460.26 434.70 457.50 428.90 C454.74 434.70 448.30 440.50 448.30 446.30 C448.30 453.26 455.66 452.56 457.50 447.46 Z" fill="#6b6b6b"/>
<path d="M500.60 447.76 C502.44 452.86 509.80 453.56 509.80 446.60 C509.80 440.80 503.36 435.00 500.60 429.20 C497.84 435.00 491.40 440.80 491.40 446.60 C491.40 453.56 498.76 452.86 500.60 447.76 Z" fill="#6b6b6b"/>
<path d="M440.90 349.15 C441.72 346.84 445.00 346.53 445.00 349.68 C445.00 352.30 442.13 354.93 440.90 357.55 C439.67 354.93 436.80 352.30 436.80 349.68 C436.80 346.53 440.08 346.84 440.90 349.15 Z" fill="#6b6b6b"/>
<path d="M516.40 440.65 C517.22 442.96 520.50 443.27 520.50 440.12 C520.50 437.50 517.63 434.88 516.40 432.25 C515.17 434.88 512.30 437.50 512.30 440.12 C512.30 443.27 515.58 442.96 516.40 440.65 Z" fill="#6b6b6b"/>
<path d="M437.7 331.4 V344.8" stroke="#606060" stroke-width="1.2"/><rect x="439.9" y="331.9" width="4.6" height="12.6" rx="2.2" fill="none" stroke="#606060" stroke-width="1.15"/>
<path d="M520.3 446.6 V459.6" stroke="#606060" stroke-width="1.2"/><rect x="512.9" y="446.9" width="4.6" height="12.4" rx="2.2" fill="none" stroke="#606060" stroke-width="1.15"/>
</g>
</g>
<g>
<rect x="278.00" y="58.30" width="16.50" height="16.20" fill="none" stroke="#fe0000" stroke-width="2.6" stroke-linejoin="round" />
<rect x="302.40" y="88.00" width="14.20" height="14.20" fill="none" stroke="#fe0000" stroke-width="2.6" stroke-linejoin="round" />
<rect x="285.30" y="127.40" width="23.00" height="22.70" fill="none" stroke="#fe0000" stroke-width="2.6" stroke-linejoin="round" />
<rect x="267.70" y="141.20" width="27.70" height="28.00" fill="none" stroke="#fe0000" stroke-width="2.6" stroke-linejoin="round" />
<rect x="337.10" y="58.00" width="13.60" height="14.70" fill="none" stroke="#fe0000" stroke-width="2.6" stroke-linejoin="round" />
<rect x="353.30" y="55.30" width="20.50" height="20.30" fill="none" stroke="#fe0000" stroke-width="2.6" stroke-linejoin="round" />
<rect x="362.10" y="135.40" width="15.20" height="15.20" fill="none" stroke="#fe0000" stroke-width="2.6" stroke-linejoin="round" />
<rect x="447.60" y="49.10" width="25.50" height="25.30" fill="none" stroke="#fe0000" stroke-width="2.6" stroke-linejoin="round" />
<rect x="463.50" y="59.20" width="48.00" height="47.90" fill="none" stroke="#fe0000" stroke-width="2.6" stroke-linejoin="round" />
<rect x="473.60" y="117.40" width="19.90" height="20.10" fill="none" stroke="#fe0000" stroke-width="2.6" stroke-linejoin="round" />
<rect x="491.10" y="114.80" width="17.10" height="17.10" fill="none" stroke="#fe0000" stroke-width="2.6" stroke-linejoin="round" />
<rect x="486.50" y="126.40" width="59.00" height="58.90" fill="none" stroke="#fe0000" stroke-width="2.6" stroke-linejoin="round" />
<rect x="257.60" y="176.40" width="112.30" height="111.50" fill="none" stroke="#fe0000" stroke-width="2.6" stroke-linejoin="round" />
<rect x="248.50" y="182.50" width="18.60" height="18.20" fill="none" stroke="#fe0000" stroke-width="2.6" stroke-linejoin="round" />
<rect x="262.50" y="255.40" width="35.00" height="32.90" fill="none" stroke="#fe0000" stroke-width="2.6" stroke-linejoin="round" />
<rect x="302.30" y="253.70" width="31.40" height="31.00" fill="none" stroke="#fe0000" stroke-width="2.6" stroke-linejoin="round" />
<rect x="260.90" y="279.80" width="42.50" height="43.30" fill="none" stroke="#fe0000" stroke-width="2.6" stroke-linejoin="round" />
<rect x="297.80" y="280.80" width="38.30" height="38.10" fill="none" stroke="#fe0000" stroke-width="2.6" stroke-linejoin="round" />
<rect x="324.70" y="299.50" width="14.60" height="13.90" fill="none" stroke="#fe0000" stroke-width="2.6" stroke-linejoin="round" />
<rect x="440.30" y="228.70" width="100.10" height="99.70" fill="none" stroke="#fe0000" stroke-width="2.6" stroke-linejoin="round" />
<rect x="475.70" y="238.40" width="31.50" height="31.00" fill="none" stroke="#fe0000" stroke-width="2.6" stroke-linejoin="round" />
<rect x="241.80" y="359.50" width="14.20" height="14.50" fill="none" stroke="#fe0000" stroke-width="2.6" stroke-linejoin="round" />
<rect x="255.30" y="361.30" width="21.10" height="20.90" fill="none" stroke="#fe0000" stroke-width="2.6" stroke-linejoin="round" />
<rect x="277.50" y="372.50" width="22.80" height="22.30" fill="none" stroke="#fe0000" stroke-width="2.6" stroke-linejoin="round" />
<rect x="363.00" y="381.50" width="18.80" height="17.90" fill="none" stroke="#fe0000" stroke-width="2.6" stroke-linejoin="round" />
<rect x="490.40" y="337.00" width="34.70" height="34.70" fill="none" stroke="#fe0000" stroke-width="2.6" stroke-linejoin="round" />
<rect x="466.50" y="351.90" width="38.20" height="38.20" fill="none" stroke="#fe0000" stroke-width="2.6" stroke-linejoin="round" />
<rect x="447.50" y="368.40" width="27.70" height="27.70" fill="none" stroke="#fe0000" stroke-width="2.6" stroke-linejoin="round" />
<rect x="490.40" y="366.10" width="34.70" height="34.60" fill="none" stroke="#fe0000" stroke-width="2.6" stroke-linejoin="round" />
<rect x="466.50" y="384.10" width="38.20" height="39.00" fill="none" stroke="#fe0000" stroke-width="2.6" stroke-linejoin="round" />
<rect x="447.50" y="415.20" width="27.70" height="28.10" fill="none" stroke="#fe0000" stroke-width="2.6" stroke-linejoin="round" />
<rect x="447.50" y="443.70" width="27.70" height="28.00" fill="none" stroke="#fe0000" stroke-width="2.6" stroke-linejoin="round" />
<rect x="470.60" y="429.40" width="28.50" height="27.80" fill="none" stroke="#fe0000" stroke-width="2.6" stroke-linejoin="round" />
<rect x="490.40" y="413.00" width="34.20" height="34.30" fill="none" stroke="#fe0000" stroke-width="2.6" stroke-linejoin="round" />
<rect x="489.80" y="444.40" width="28.80" height="27.30" fill="none" stroke="#fe0000" stroke-width="2.6" stroke-linejoin="round" />
<rect x="469" y="47" width="23.40" height="23.10" fill="none" stroke="#08ee08" stroke-width="2.3" stroke-dasharray="2.0 2.0"/>
<rect x="466.1" y="132.7" width="17.60" height="18.70" fill="none" stroke="#08ee08" stroke-width="2.3" stroke-dasharray="2.0 2.0"/>
<rect x="285.9" y="354.8" width="27.00" height="25.60" fill="none" stroke="#08ee08" stroke-width="2.3" stroke-dasharray="2.0 2.0"/>
<rect x="269.7" y="429.4" width="22.70" height="22.60" fill="none" stroke="#08ee08" stroke-width="2.3" stroke-dasharray="2.0 2.0"/>
<rect x="464.25" y="40.25" width="22.70" height="25.00" fill="none" stroke="#fbfb00" stroke-width="2.7" stroke-linejoin="round" />
<rect x="464.25" y="127.05" width="23.90" height="26.20" fill="none" stroke="#fbfb00" stroke-width="2.7" stroke-linejoin="round" />
<rect x="280.25" y="349.45" width="30.70" height="27.90" fill="none" stroke="#fbfb00" stroke-width="2.7" stroke-linejoin="round" />
<rect x="262.25" y="422.95" width="25.30" height="29.60" fill="none" stroke="#fbfb00" stroke-width="2.7" stroke-linejoin="round" />
</g>
</svg>
</body></html>
